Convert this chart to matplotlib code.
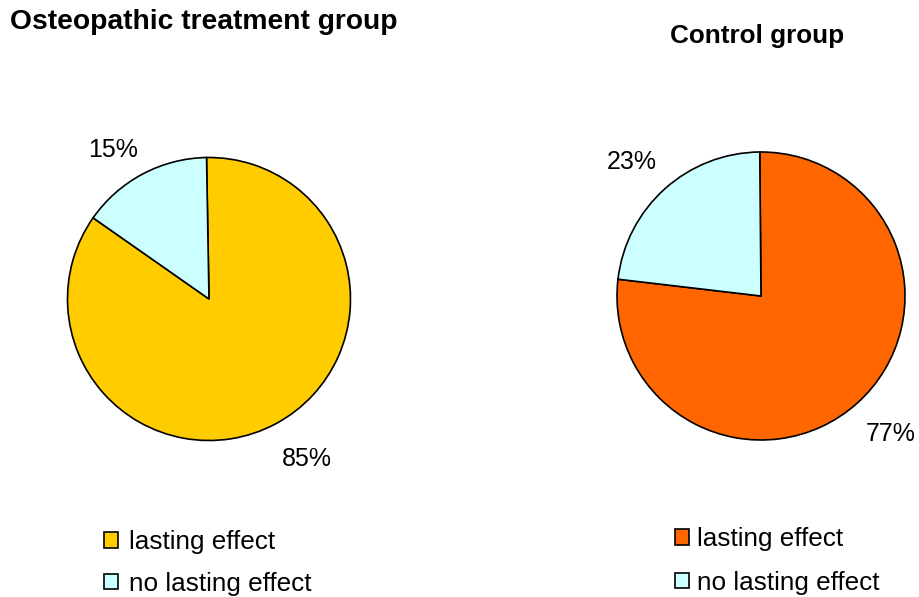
import matplotlib
matplotlib.use("Agg")
import matplotlib.pyplot as plt

plt.rcParams['font.family'] = ['Liberation Sans', 'DejaVu Sans']

# Data
categories = ["lasting effect", "no lasting effect"]
osteo_values = [85, 15]
control_values = [77, 23]
osteo_colors = ["#FFCC00", "#CCFFFF"]
control_colors = ["#FF6600", "#CCFFFF"]

W, H = 919, 597
fig = plt.figure(figsize=(W / 100, H / 100), dpi=100)
fig.patch.set_facecolor("white")


def pie_axes(cx, cy, r):
    """Axes whose [-1, 1] box covers a circle of radius r px centred at (cx, cy) px (top-left origin)."""
    return fig.add_axes([(cx - r) / W, (H - cy - r) / H, 2 * r / W, 2 * r / H])


def draw_pie(ax, values, colors, startangle, label_pos):
    wedges, _ = ax.pie(values, colors=colors, startangle=startangle,
                       counterclock=False, radius=1.0,
                       wedgeprops=dict(edgecolor="black", linewidth=1.2))
    for w in wedges:
        w.set_clip_on(False)
    ax.set_xlim(-1, 1)
    ax.set_ylim(-1, 1)
    ax.set_aspect("equal")
    ax.axis("off")
    for v, (x, y) in zip(values, label_pos):
        ax.text(x, y, f"{v}%", ha="center", va="center", fontsize=18,
                color="black")
    return wedges


# Osteopathic treatment group
ax1 = pie_axes(209, 299, 141.5)
w1 = draw_pie(ax1, osteo_values, osteo_colors, 91,
              [(0.69, -1.13), (-0.68, 1.05)])

# Control group
ax2 = pie_axes(761, 296, 144)
w2 = draw_pie(ax2, control_values, control_colors, 90.5,
              [(0.90, -0.96), (-0.90, 0.93)])

fig.text(10 / W, 1 - 29 / H, "Osteopathic treatment group", fontsize=20.3,
         fontweight="bold", ha="left", va="baseline")
fig.text(757 / W, 1 - 43 / H, "Control group", fontsize=18.8,
         fontweight="bold", ha="center", va="baseline")

legend_kw = dict(frameon=False, fontsize=18.8, handlelength=0.54,
                 handleheight=0.54, borderaxespad=0, borderpad=0)
fig.legend(w1, categories, loc="upper left", labelspacing=0.68,
           handletextpad=0.4,
           bbox_to_anchor=(104 / W, 1 - 530 / H), **legend_kw)
fig.legend(w2, categories, loc="upper left", labelspacing=0.76,
           handletextpad=0.3,
           bbox_to_anchor=(675 / W, 1 - 527 / H), **legend_kw)

fig.savefig("out.png", dpi=100, facecolor="white")
